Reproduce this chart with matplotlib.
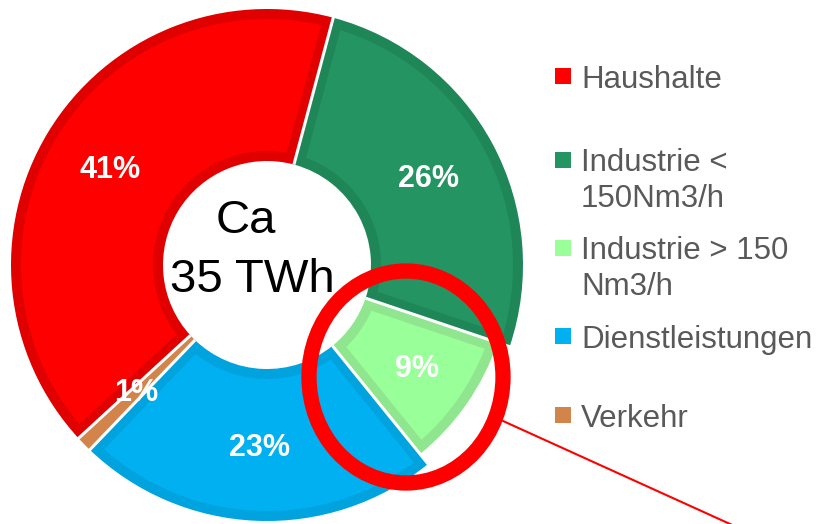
import numpy as np
import matplotlib
matplotlib.use("Agg")
import matplotlib.pyplot as plt
from matplotlib.patches import Ellipse, Rectangle, Polygon

# ---- data ----
categories = ["Haushalte", "Industrie < 150Nm3/h", "Industrie > 150 Nm3/h",
              "Dienstleistungen", "Verkehr"]
legend_labels = ["Haushalte", "Industrie <\n150Nm3/h", "Industrie > 150\nNm3/h",
                 "Dienstleistungen", "Verkehr"]
shares = [41, 26, 9, 23, 1]
pct_labels = ["41%", "26%", "9%", "23%", "1%"]
center_title = "Ca"
center_total = "35 TWh"
highlight = "Industrie > 150 Nm3/h"

# ---- styles ----
fill_colors = ["#FF0000", "#249462", "#99FF99", "#00B0F0", "#D3844A"]
edge_colors = ["#E00000", "#1F8757", "#8FE68F", "#00A3DE", "#D3844A"]
legend_text_color = "#595959"

plt.rcParams['font.family'] = ['Liberation Sans', 'DejaVu Sans']

W, H = 822, 524
fig = plt.figure(figsize=(W / 100, H / 100), dpi=100)
ax = fig.add_axes([0, 0, 1, 1])

# pie geometry in pixels -> data units (1 unit = outer radius)
cx_px, cy_px, R_px = 267, 265, 256
inner_frac = 104 / R_px
border = 10 / R_px
start_angle = 75 + shares[0] / sum(shares) * 360


def px(x, y):
    return (x - cx_px) / R_px, (cy_px - y) / R_px


wedges, _ = ax.pie(shares, colors=edge_colors, startangle=start_angle,
                   counterclock=False, radius=1.0,
                   wedgeprops=dict(width=1 - inner_frac, linewidth=0))

ax.set_xlim(-cx_px / R_px, (W - cx_px) / R_px)
ax.set_ylim(-(H - cy_px) / R_px, cy_px / R_px)
ax.set_aspect('auto')
ax.axis('off')

# highlighted slice drawn slightly smaller
hi = categories.index(highlight)
wedges[hi].set_radius(0.95)
wedges[hi].set_width(0.95 - inner_frac)


def inset_polygon(w, d):
    ro = w.r - d
    ri = w.r - w.width + d
    t1, t2 = np.deg2rad(w.theta1), np.deg2rad(w.theta2)
    ao1, ao2 = t1 + np.arcsin(d / ro), t2 - np.arcsin(d / ro)
    ai1, ai2 = t1 + np.arcsin(d / ri), t2 - np.arcsin(d / ri)
    if ai2 <= ai1 or ao2 <= ao1:
        return None
    a_out = np.linspace(ao1, ao2, 120)
    a_in = np.linspace(ai2, ai1, 60)
    xs = np.concatenate([ro * np.cos(a_out), ri * np.cos(a_in)])
    ys = np.concatenate([ro * np.sin(a_out), ri * np.sin(a_in)])
    return np.column_stack([xs, ys])


# lighter inner fill inside a darker border
for w, fc in zip(wedges, fill_colors):
    poly = inset_polygon(w, border)
    if poly is None:
        w.set_facecolor(fc)
    else:
        ax.add_patch(Polygon(poly, closed=True, facecolor=fc,
                             edgecolor='none', zorder=w.get_zorder() + 0.1))

# white separators between slices
for w in wedges:
    t = np.deg2rad(w.theta1)
    ax.plot([inner_frac * np.cos(t), 1.01 * np.cos(t)],
            [inner_frac * np.sin(t), 1.01 * np.sin(t)],
            color="white", lw=2.2, solid_capstyle='butt', zorder=3)

# percentage labels
for lab, w in zip(pct_labels, wedges):
    t = np.deg2rad((w.theta1 + w.theta2) / 2)
    ax.text(0.715 * np.cos(t), 0.715 * np.sin(t), lab, ha='center',
            va='center', color='white', fontsize=22, fontweight='bold',
            zorder=6)

# center text
x0, y0 = px(246, 233)
ax.text(x0, y0, center_title, ha='center', va='baseline',
        fontsize=34, color='black', zorder=6)
x1, y1 = px(252, 292)
ax.text(x1, y1, center_total, ha='center', va='baseline',
        fontsize=34, color='black', zorder=6)

# red highlight ring and pointer line
ecx, ecy = px(406, 377)
ring = Ellipse((ecx, ecy), 194 / R_px, 212 / R_px, fill=False,
               ec='#FF0000', lw=11, zorder=7)
ax.add_patch(ring)
ang = np.deg2rad(-24.4)
ax.plot([ecx + 0.4 * np.cos(ang), ecx + 1.8 * np.cos(ang)],
        [ecy + 0.4 * np.sin(ang), ecy + 1.8 * np.sin(ang)],
        color='#FF0000', lw=1.5, clip_on=False, zorder=7)

# legend (manual, Excel style)
first_baselines_px = [88, 172, 260, 348, 427]
line_step_px = 35
sq_x0 = px(555, 0)[0]
txt_x = px(581, 0)[0]
sq = 16 / R_px
for lab, col, by in zip(legend_labels, fill_colors, first_baselines_px):
    n = lab.count("\n")
    yb = px(0, by)[1]
    ax.add_patch(Rectangle((sq_x0, yb + 4 / R_px), sq, sq,
                           facecolor=col, edgecolor='none', zorder=5))
    ax.text(txt_x, px(0, by + n * line_step_px)[1], lab, ha='left',
            va='baseline', fontsize=22.5, color=legend_text_color,
            linespacing=1.26, zorder=5)

fig.savefig("out.png", dpi=100)
